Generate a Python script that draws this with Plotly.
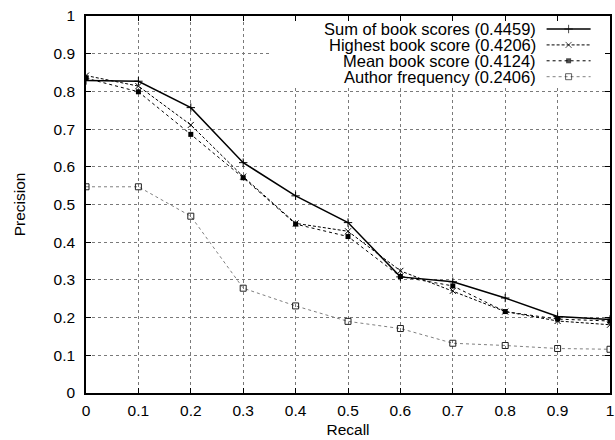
import plotly.graph_objects as go

recall = [0.0, 0.1, 0.2, 0.3, 0.4, 0.5, 0.6, 0.7, 0.8, 0.9, 1.0]

sum_scores = [0.829, 0.827, 0.757, 0.611, 0.523, 0.452, 0.308, 0.295, 0.252, 0.203, 0.195]
highest_score = [0.842, 0.814, 0.711, 0.574, 0.450, 0.429, 0.324, 0.271, 0.216, 0.191, 0.181]
mean_score = [0.835, 0.799, 0.686, 0.571, 0.448, 0.415, 0.309, 0.284, 0.216, 0.196, 0.191]
author_freq = [0.547, 0.547, 0.469, 0.278, 0.231, 0.190, 0.171, 0.132, 0.126, 0.118, 0.116]

series_names = [
    "Sum of book scores (0.4459)",
    "Highest book score (0.4206)",
    "Mean book score (0.4124)",
    "Author frequency (0.2406)",
]
series_values = [sum_scores, highest_score, mean_score, author_freq]

x_ticks = [0, 0.1, 0.2, 0.3, 0.4, 0.5, 0.6, 0.7, 0.8, 0.9, 1]
x_tick_labels = ["0", "0.1", "0.2", "0.3", "0.4", "0.5", "0.6", "0.7", "0.8", "0.9", "1"]
y_ticks = [0, 0.1, 0.2, 0.3, 0.4, 0.5, 0.6, 0.7, 0.8, 0.9, 1]
y_tick_labels = ["0", "0.1", "0.2", "0.3", "0.4", "0.5", "0.6", "0.7", "0.8", "0.9", "1"]

styles = [
    dict(line=dict(color="black", width=1.5, dash="solid"),
         marker=dict(symbol="cross-thin", size=6, color="black", line=dict(color="black", width=1))),
    dict(line=dict(color="black", width=1, dash="3px,2px"),
         marker=dict(symbol="x-thin", size=6, color="black", line=dict(color="black", width=1))),
    dict(line=dict(color="black", width=1, dash="dot"),
         marker=dict(symbol="square", size=5, color="black", line=dict(color="black", width=0))),
    dict(line=dict(color="#808080", width=1, dash="dot"),
         marker=dict(symbol="square-open", size=6, color="#222", line=dict(color="#222", width=1))),
]

FONT = "Liberation Sans, Arial, Helvetica, sans-serif"

fig = go.Figure()

for name, vals, st in zip(series_names, series_values, styles):
    fig.add_trace(go.Scatter(
        x=recall, y=vals, mode="lines+markers", name=name,
        line=st["line"], marker=st["marker"], showlegend=False,
    ))

# gnuplot-style key: right-aligned text with a sample to its right
key_text_x = 0.862
key_sample_x = [0.879, 0.921, 0.963]
key_rows = [0.9655, 0.9233, 0.8812, 0.8390]

for name, st, ry in zip(series_names, styles, key_rows):
    m = dict(st["marker"])
    m["size"] = [0, st["marker"]["size"], 0]
    fig.add_trace(go.Scatter(
        x=key_sample_x, y=[ry] * 3, mode="lines+markers",
        line=st["line"], marker=m, showlegend=False, hoverinfo="skip",
        xaxis="x2", yaxis="y2",
    ))
    fig.add_annotation(
        x=key_text_x, y=ry, xref="paper", yref="paper", text=name,
        showarrow=False, xanchor="right", yanchor="middle",
        font=dict(family=FONT, size=16.5, color="black"),
    )

# opaque key area hiding the grid (above grid, below traces)
fig.add_shape(type="rect", xref="x", yref="y",
              x0=0.351, x1=1.0, y0=0.817, y1=1.0,
              fillcolor="white", line=dict(width=0), layer="between")

axis_common = dict(
    showline=True, linecolor="black", linewidth=1.5, mirror="ticks",
    ticks="inside", ticklen=5, tickcolor="black", tickwidth=1,
    showgrid=True, gridcolor="#7a7a7a", gridwidth=1, griddash="dot",
    zeroline=False, automargin=False,
    tickfont=dict(family=FONT, size=15.5, color="black"),
)

fig.update_layout(
    width=615, height=440,
    margin=dict(l=86, r=5, t=16, b=47),
    paper_bgcolor="white", plot_bgcolor="white",
    font=dict(family=FONT, size=15.5, color="black"),
    xaxis=dict(range=[0, 1], tickvals=x_ticks, ticktext=x_tick_labels,
               title=dict(text="Recall", standoff=6, font=dict(family=FONT, size=15.5)),
               ticklabelstandoff=3, **axis_common),
    yaxis=dict(range=[0, 1], tickvals=y_ticks, ticktext=y_tick_labels,
               title=dict(text="Precision", standoff=24, font=dict(family=FONT, size=15.5)),
               ticklabelstandoff=6, **axis_common),
    xaxis2=dict(overlaying="x", range=[0, 1], visible=False, fixedrange=True),
    yaxis2=dict(overlaying="y", range=[0, 1], visible=False, fixedrange=True),
    showlegend=False,
)

fig.write_html(
    "out.html",
    config={"displayModeBar": False},
    post_script="document.body.style.margin='0';document.body.style.overflow='hidden';",
)
